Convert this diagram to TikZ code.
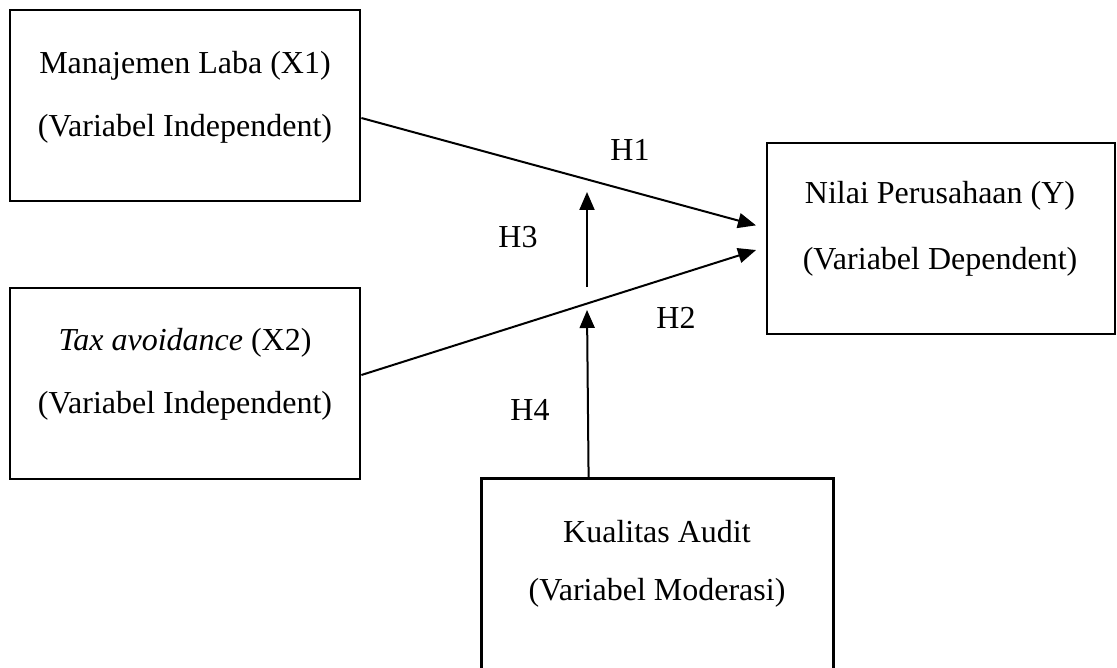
\documentclass[tikz,border=0pt]{standalone}
\usepackage{fontspec}
\setmainfont{Liberation Serif}
\usetikzlibrary{arrows.meta,calc}
\begin{document}
\begin{tikzpicture}[x=0.5pt,y=-0.5pt,
  boxshape/.style={draw,line width=1.4pt,rectangle,minimum width=175pt,minimum height=95.5pt,inner sep=0pt},
  boxtext/.style={align=center,font=\fontsize{16}{29}\selectfont,inner sep=0pt},
  hlabel/.style={font=\fontsize{16}{18}\selectfont,inner sep=0pt},
  conn/.style={line width=1pt,-{Triangle[length=9pt,width=7.5pt]}}]
\useasboundingbox (0,0) rectangle (1117,668);
% boxes
\node[boxshape] (b1) at (185,105.5) {};
\node[boxshape] (b2) at (185,383.5) {};
\node[boxshape,minimum width=174pt] (bY) at (941,238.5) {};
\node[boxshape,draw=none,minimum width=174.5pt,minimum height=100pt] (bK) at (657.5,580) {};
\draw[line width=1.4pt] (bK.south west) -- (bK.north west) -- (bK.north east) -- (bK.south east);
% texts
\node[boxtext] (t1) at (185,97) {Manajemen Laba (X1)\\[2.5pt](Variabel Independent)};
\node[boxtext] (t2) at (185,374) {\textit{Tax avoidance} (X2)\\[2.5pt](Variabel Independent)};
\node[boxtext] (tY) at (940,229) {Nilai Perusahaan (Y)\\[4pt](Variabel Dependent)};
\node[boxtext] (tK) at (657,564) {Kualitas Audit\\(Variabel Moderasi)};
% connector end points
\coordinate (h1s) at ($(b1.east)+(0,12.5)$);
\coordinate (h1e) at ($(bY.west)+(0,-10.5)$);
\coordinate (h2s) at ($(b2.east)+(0,-8.5)$);
\coordinate (h2e) at ($(bY.west)+(0,8.5)$);
\coordinate (h3s) at (587,287);
\coordinate (h3e) at (587,192);
\coordinate (h4s) at ($(bK.north west)+(107,0)$);
\coordinate (h4e) at (587,310);
% connectors
\draw[conn,shorten >=5pt] (h1s) -- (h1e);
\draw[conn,shorten >=5pt] (h2s) -- (h2e);
\draw[conn] (h3s) -- (h3e);
\draw[conn] (h4s) -- (h4e);
% labels
\node[hlabel] (l1) at (630,150) {H1};
\node[hlabel] (l3) at (518,237) {H3};
\node[hlabel] (l2) at (676,318) {H2};
\node[hlabel] (l4) at (530,410) {H4};
\end{tikzpicture}
\end{document}
